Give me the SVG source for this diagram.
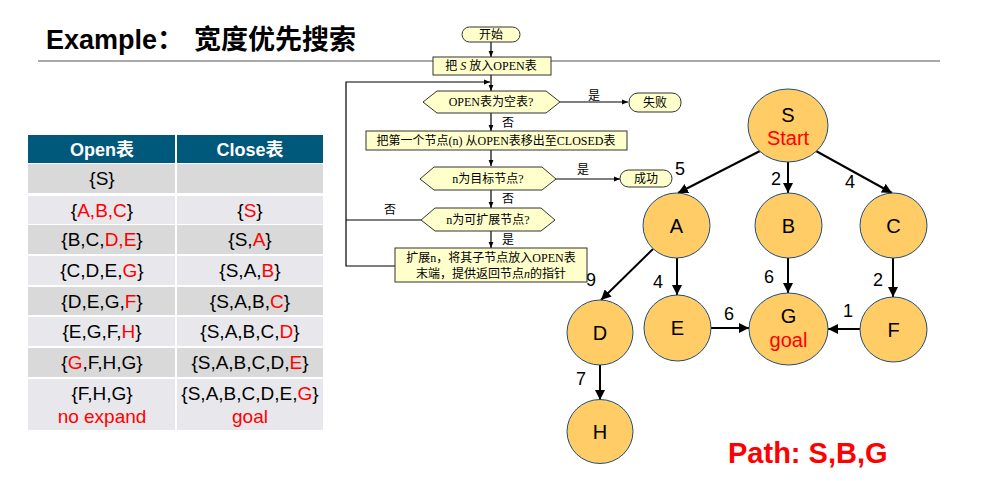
<svg xmlns="http://www.w3.org/2000/svg" width="991" height="481" viewBox="0 0 991 481">
  <style>
    .sans { font-family: "Liberation Sans", Arial, "Noto Sans CJK SC", sans-serif; }
    .fc { font-family: "Liberation Serif", "Noto Sans CJK SC", serif; font-size: 12px; fill: #000; text-anchor: middle; }
    .fcbox { fill: #FFFFCC; stroke: #333; stroke-width: 1; }
    .fcline { fill: none; stroke: #000; stroke-width: 1.2; }
    .th { font-family: "Liberation Sans", Arial, "Noto Sans CJK SC", sans-serif; font-size: 18px; font-weight: bold; fill: #fff; text-anchor: middle; }
    .td { font-family: "Liberation Sans", Arial, sans-serif; font-size: 19px; fill: #000; text-anchor: middle; }
    .dark { fill: #D9D9D9; }
    .light { fill: #E8E8EC; }
    .node ellipse { fill: #FFCC66; stroke: #1F4E79; stroke-width: 1; }
    .nl { font-family: "Liberation Sans", Arial, sans-serif; font-size: 20px; fill: #000; text-anchor: middle; }
    .edge { fill: none; stroke: #000; stroke-width: 2; }
    .el { font-family: "Liberation Sans", Arial, sans-serif; font-size: 18px; fill: #000; text-anchor: middle; }
    .red { fill: #FF0000; }
  </style>
  <defs>
    <marker id="ah" viewBox="0 0 10 10" refX="10" refY="5" markerWidth="5" markerHeight="5" orient="auto" markerUnits="strokeWidth">
      <path d="M0,0 L10,5 L0,10 z" fill="#000"/>
    </marker>
    <marker id="fa" viewBox="0 0 10 10" refX="10" refY="5" markerWidth="5" markerHeight="5" orient="auto" markerUnits="strokeWidth">
      <path d="M0,1 L10,5 L0,9 z" fill="#000"/>
    </marker>
  </defs>

  <rect width="991" height="481" fill="#fff"/>

  <!-- title -->
  <g id="title">
    <text x="46" y="49" class="sans" font-size="27" font-weight="bold" fill="#000">Example：<tspan x="194">宽度优先搜索</tspan></text>
    <line x1="38" y1="61" x2="940" y2="61" stroke="#8C8C8C" stroke-width="1.5"/>
  </g>

  <!-- search table -->
  <g id="table">
    <rect x="28" y="135" width="295" height="28" fill="#00587A"/>
    <text x="102" y="156" class="th">Open表</text>
    <text x="250" y="156" class="th">Close表</text>

    <rect x="28" y="164" width="295" height="29" class="dark"/>
    <rect x="28" y="196" width="295" height="28" class="light"/>
    <rect x="28" y="225" width="295" height="29" class="dark"/>
    <rect x="28" y="256" width="295" height="29" class="light"/>
    <rect x="28" y="287" width="295" height="28" class="dark"/>
    <rect x="28" y="317" width="295" height="29" class="light"/>
    <rect x="28" y="348" width="295" height="29" class="dark"/>
    <rect x="28" y="379" width="295" height="51" class="light"/>
    <line x1="176" y1="135" x2="176" y2="430" stroke="#fff" stroke-width="2"/>

    <text x="102" y="185" class="td">{S}</text>

    <text x="102" y="217" class="td">{<tspan class="red">A,B,C</tspan>}</text>
    <text x="250" y="217" class="td">{<tspan class="red">S</tspan>}</text>

    <text x="102" y="246" class="td">{B,C,<tspan class="red">D,E</tspan>}</text>
    <text x="250" y="246" class="td">{S,<tspan class="red">A</tspan>}</text>

    <text x="102" y="277" class="td">{C,D,E,<tspan class="red">G</tspan>}</text>
    <text x="250" y="277" class="td">{S,A,<tspan class="red">B</tspan>}</text>

    <text x="102" y="308" class="td">{D,E,G,<tspan class="red">F</tspan>}</text>
    <text x="250" y="308" class="td">{S,A,B,<tspan class="red">C</tspan>}</text>

    <text x="102" y="338" class="td">{E,G,F,<tspan class="red">H</tspan>}</text>
    <text x="250" y="338" class="td">{S,A,B,C,<tspan class="red">D</tspan>}</text>

    <text x="102" y="369" class="td">{<tspan class="red">G</tspan>,F,H,G}</text>
    <text x="250" y="369" class="td">{S,A,B,C,D,<tspan class="red">E</tspan>}</text>

    <text x="102" y="400" class="td">{F,H,G}</text>
    <text x="102" y="423" class="td red">no expand</text>
    <text x="250" y="400" class="td">{S,A,B,C,D,E,<tspan class="red">G</tspan>}</text>
    <text x="250" y="423" class="td red">goal</text>
  </g>

  <!-- graph connectors and weights -->
  <g id="connectors">
    <line x1="760" y1="151" x2="678" y2="193" class="edge" marker-end="url(#ah)"/>
    <line x1="788" y1="162" x2="788" y2="193" class="edge" marker-end="url(#ah)"/>
    <line x1="816" y1="151" x2="892" y2="193" class="edge" marker-end="url(#ah)"/>
    <line x1="653" y1="249" x2="601" y2="300" class="edge" marker-end="url(#ah)"/>
    <line x1="677" y1="258" x2="677" y2="295" class="edge" marker-end="url(#ah)"/>
    <line x1="788" y1="258" x2="788" y2="293" class="edge" marker-end="url(#ah)"/>
    <line x1="893" y1="258" x2="893" y2="297" class="edge" marker-end="url(#ah)"/>
    <line x1="711" y1="328" x2="749" y2="328" class="edge" stroke-width="1.5" marker-end="url(#ah)"/>
    <line x1="860" y1="329" x2="828" y2="329" class="edge" stroke-width="1.5" marker-end="url(#ah)"/>
    <line x1="600" y1="365" x2="600" y2="400" class="edge" marker-end="url(#ah)"/>

    <text x="680" y="175" class="el">5</text>
    <text x="776" y="185" class="el">2</text>
    <text x="850" y="188" class="el">4</text>
    <text x="591" y="286" class="el">9</text>
    <text x="658" y="288" class="el">4</text>
    <text x="769" y="283" class="el">6</text>
    <text x="878" y="286" class="el">2</text>
    <text x="729" y="320" class="el">6</text>
    <text x="848" y="317" class="el">1</text>
    <text x="581" y="385" class="el">7</text>
  </g>

  <!-- graph nodes -->
  <g id="node-S" class="node">
    <ellipse cx="788" cy="125.5" rx="40" ry="36.5"/>
    <text x="788" y="122" class="nl">S</text>
    <text x="788" y="145" class="nl red" font-size="19">Start</text>
  </g>
  <g id="node-A" class="node">
    <ellipse cx="676.5" cy="225.5" rx="33.5" ry="32.5"/>
    <text x="676.5" y="233" class="nl">A</text>
  </g>
  <g id="node-B" class="node">
    <ellipse cx="788.5" cy="225.5" rx="33.5" ry="32.5"/>
    <text x="788.5" y="233" class="nl">B</text>
  </g>
  <g id="node-C" class="node">
    <ellipse cx="893.5" cy="225.5" rx="33.5" ry="32.5"/>
    <text x="893.5" y="233" class="nl">C</text>
  </g>
  <g id="node-D" class="node">
    <ellipse cx="600" cy="332.5" rx="33" ry="32.5"/>
    <text x="600" y="340" class="nl">D</text>
  </g>
  <g id="node-E" class="node">
    <ellipse cx="677.5" cy="328" rx="33.5" ry="33"/>
    <text x="677.5" y="335" class="nl">E</text>
  </g>
  <g id="node-G" class="node">
    <ellipse cx="788.5" cy="329" rx="39.5" ry="36"/>
    <text x="788.5" y="323" class="nl">G</text>
    <text x="788.5" y="347" class="nl red" font-size="19">goal</text>
  </g>
  <g id="node-F" class="node">
    <ellipse cx="893.5" cy="329.5" rx="33.5" ry="32.5"/>
    <text x="893.5" y="337" class="nl">F</text>
  </g>
  <g id="node-H" class="node">
    <ellipse cx="600" cy="431.5" rx="33" ry="32"/>
    <text x="600" y="439" class="nl">H</text>
  </g>

  <text x="728" y="463" class="sans" font-size="29" font-weight="bold" fill="#FF0000">Path: S,B,G</text>

  <!-- flowchart of the breadth-first procedure -->
  <g id="flow-connectors">
    <line x1="491" y1="42" x2="491" y2="57" class="fcline" marker-end="url(#fa)"/>
    <line x1="491" y1="75" x2="491" y2="91" class="fcline" marker-end="url(#fa)"/>
    <polyline points="395,266 346,266 346,82 490,82" class="fcline" marker-end="url(#fa)"/>
    <polyline points="421,220 346,220" class="fcline"/>
    <line x1="560" y1="102" x2="628" y2="102" class="fcline" marker-end="url(#fa)"/>
    <line x1="491" y1="113" x2="491" y2="131" class="fcline" marker-end="url(#fa)"/>
    <line x1="491" y1="150" x2="491" y2="166" class="fcline" marker-end="url(#fa)"/>
    <line x1="556" y1="179" x2="620" y2="179" class="fcline" marker-end="url(#fa)"/>
    <line x1="491" y1="190" x2="491" y2="208" class="fcline" marker-end="url(#fa)"/>
    <line x1="491" y1="231" x2="491" y2="248" class="fcline" marker-end="url(#fa)"/>
    <text x="594" y="100" class="fc" font-size="10">是</text>
    <text x="508" y="127" class="fc" font-size="10">否</text>
    <text x="583" y="174" class="fc" font-size="10">是</text>
    <text x="508" y="203" class="fc" font-size="10">否</text>
    <text x="390" y="214" class="fc" font-size="10">否</text>
    <text x="508" y="244" class="fc" font-size="10">是</text>
  </g>

  <g id="flow-start">
    <rect x="462" y="27" width="58" height="15" rx="7.5" class="fcbox"/>
    <text x="491" y="39" class="fc" font-size="11">开始</text>
  </g>
  <g id="flow-init">
    <rect x="433" y="57" width="118" height="18" class="fcbox"/>
    <text x="491" y="70" class="fc">把 <tspan font-style="italic">S</tspan> 放入OPEN表</text>
  </g>
  <g id="flow-empty">
    <polygon points="423,102 437,91 546,91 560,102 546,113 437,113" class="fcbox"/>
    <text x="491" y="106" class="fc">OPEN表为空表?</text>
  </g>
  <g id="flow-fail">
    <rect x="629" y="93" width="52" height="19" rx="9" class="fcbox"/>
    <text x="655" y="107" class="fc">失败</text>
  </g>
  <g id="flow-remove">
    <rect x="366" y="131" width="261" height="19" class="fcbox"/>
    <text x="496" y="145" class="fc">把第一个节点(n) 从OPEN表移出至CLOSED表</text>
  </g>
  <g id="flow-goal">
    <polygon points="420,179 434,167 542,167 556,179 542,190 434,190" class="fcbox"/>
    <text x="488" y="183" class="fc">n为目标节点?</text>
  </g>
  <g id="flow-success">
    <rect x="620" y="170" width="52" height="17" rx="8.5" class="fcbox"/>
    <text x="646" y="183" class="fc">成功</text>
  </g>
  <g id="flow-expandable">
    <polygon points="421,220 435,208 541,208 555,220 541,231 435,231" class="fcbox"/>
    <text x="488" y="224" class="fc">n为可扩展节点?</text>
  </g>
  <g id="flow-expand">
    <rect x="395" y="248" width="192" height="34" class="fcbox"/>
    <text x="491" y="262" class="fc">扩展n，将其子节点放入OPEN表</text>
    <text x="491" y="278" class="fc">末端，提供返回节点<tspan font-style="italic">n</tspan>的指针</text>
  </g>
</svg>
